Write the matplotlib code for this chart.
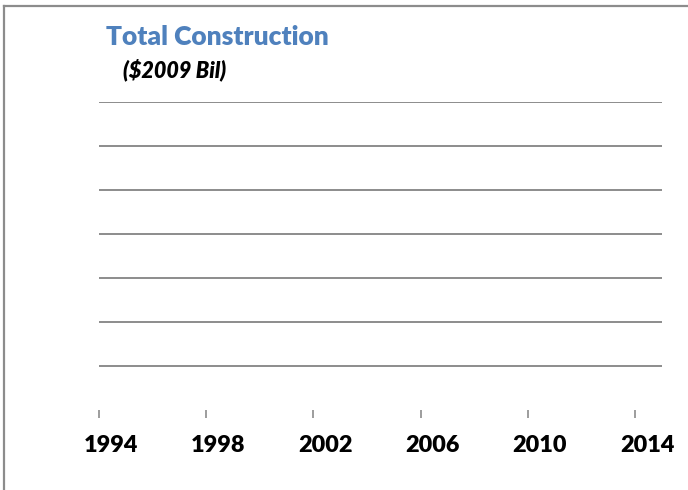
import matplotlib.pyplot as plt
import matplotlib.transforms as mtransforms
from matplotlib.lines import Line2D

# data
years = [1994, 1998, 2002, 2006, 2010, 2014]
grid_levels = [1, 2, 3, 4, 5, 6, 7]

W, H = 688, 490
fig = plt.figure(figsize=(W / 100, H / 100), dpi=100)
ax = fig.add_axes([99 / W, (H - 410) / H, (662 - 99) / W, (410 - 102) / H])

ax.set_xlim(1994, 2015)
ax.set_ylim(0, 7)
for g in grid_levels:
    ax.axhline(g, color='#8c8c8c', lw=1.4, zorder=1)

for s in ax.spines.values():
    s.set_visible(False)
ax.set_yticks([])
ax.set_xticks(years)
ax.set_xticklabels([str(y) for y in years], fontfamily='Lato', fontweight='heavy', fontsize=16.8)
ax.tick_params(axis='x', direction='out', length=6, width=1.2, color='#8c8c8c', pad=12)
# labels sit a little to the right of their ticks
shift = mtransforms.ScaledTranslation(12 / 100, 0, fig.dpi_scale_trans)
for lab in ax.get_xticklabels():
    lab.set_transform(lab.get_transform() + shift)

# frame lines (left and top)
fig.add_artist(Line2D([3.5 / W, 3.5 / W], [0, (H - 6) / H], color='#8c8c8c', lw=1.6, transform=fig.transFigure))
fig.add_artist(Line2D([3.5 / W, 1], [(H - 6) / H, (H - 6) / H], color='#8c8c8c', lw=1.6, transform=fig.transFigure))

fig.text(106 / W, (H - 45) / H, 'Total Construction', color='#4f81bd', fontfamily='Lato',
         fontweight='heavy', fontsize=19, va='baseline', ha='left')
fig.text(123 / W, (H - 77) / H, '($2009 Bil)', color='black', fontfamily='Lato',
         fontweight='heavy', fontstyle='italic', fontsize=15.5, va='baseline', ha='left')

fig.savefig('out.png', dpi=100)
